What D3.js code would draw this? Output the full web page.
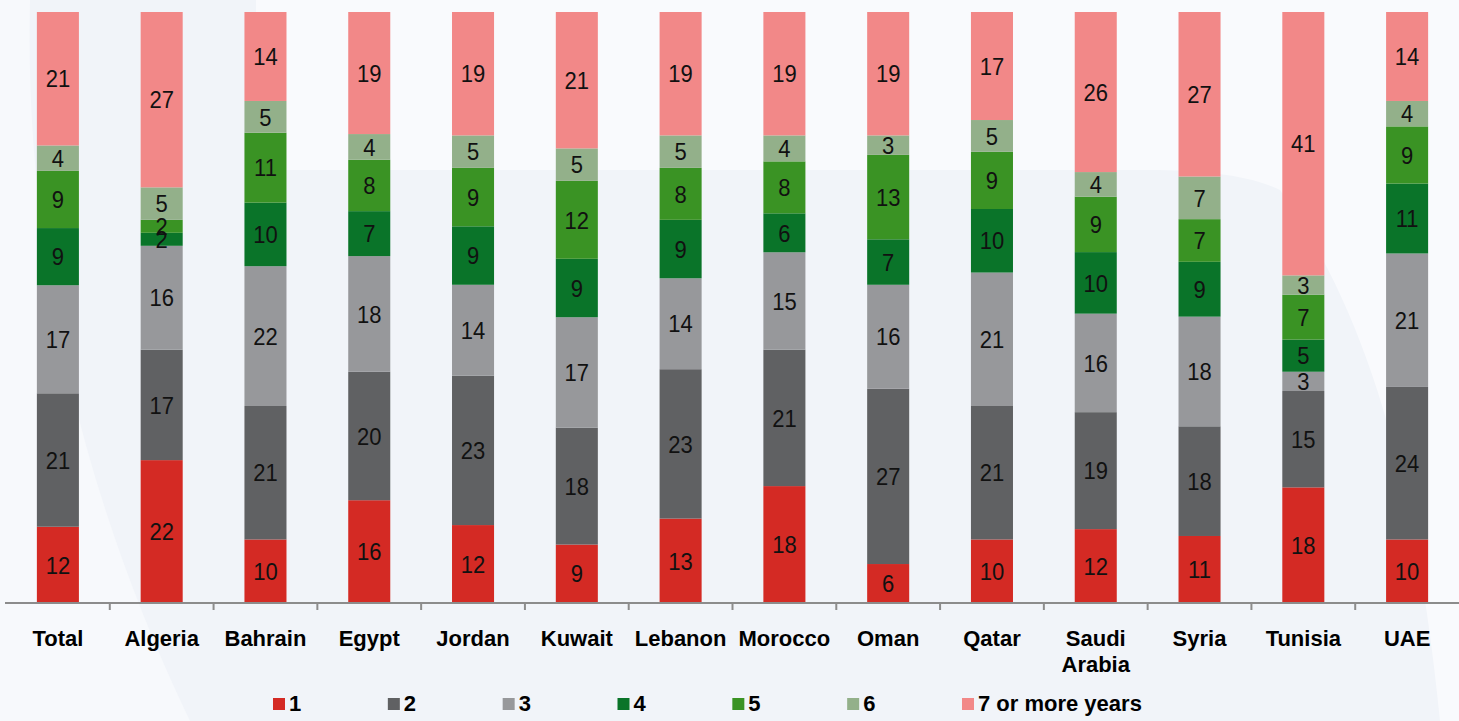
<!DOCTYPE html>
<html>
<head>
<meta charset="utf-8">
<script src="https://cdn.jsdelivr.net/npm/d3@7"></script>
<style>
  html, body { margin: 0; padding: 0; background: #f2f5f9; }
  svg { display: block; }
  text { font-family: "Liberation Sans", Arial, sans-serif; }
</style>
</head>
<body>
<svg id="chart" width="1459" height="721"></svg>
<script>
const categories = ["Total","Algeria","Bahrain","Egypt","Jordan","Kuwait","Lebanon","Morocco","Oman","Qatar","Saudi Arabia","Syria","Tunisia","UAE"];
const seriesNames = ["1","2","3","4","5","6","7 or more years"];
const s1 = [12,22,10,16,12, 9,13,18, 6,10,12,11,18,10];
const s2 = [21,17,21,20,23,18,23,21,27,21,19,18,15,24];
const s3 = [17,16,22,18,14,17,14,15,16,21,16,18, 3,21];
const s4 = [ 9, 2,10, 7, 9, 9, 9, 6, 7,10,10, 9, 5,11];
const s5 = [ 9, 2,11, 8, 9,12, 8, 8,13, 9, 9, 7, 7, 9];
const s6 = [ 4, 5, 5, 4, 5, 5, 5, 4, 3, 5, 4, 7, 3, 4];
const s7 = [21,27,14,19,19,21,19,19,19,17,26,27,41,14];
const colors = ["#d42a24","#606163","#97989b","#0a7429","#3a9324","#93b08a","#f28888"];

const allSeries = [s1,s2,s3,s4,s5,s6,s7];
const rows = categories.map((c,i) => {
  const r = {category: c};
  seriesNames.forEach((s,k) => r[s] = allSeries[k][i]);
  return r;
});

const svg = d3.select("#chart");
const W = 1459, H = 721;

// background
const bg = svg.append("g");
bg.append("rect").attr("width", W).attr("height", H).attr("fill", "#f1f4f9");
bg.append("path")
  .attr("d", "M256,0 L1459,0 L1459,721 L1440,721 C1420,520 1380,330 1280,190 C1250,175 1200,170 1150,170 L256,170 Z")
  .attr("fill", "#f9fafd");
bg.append("path")
  .attr("d", "M0,0 L30,0 C25,200 60,450 190,721 L0,721 Z")
  .attr("fill", "#f7f9fc");

const x = d3.scaleBand().domain(categories).range([6, 1459]).paddingInner(0.595).paddingOuter(0.2975);
const y = d3.scaleLinear().domain([0, 1]).range([603, 12]);

const stack = d3.stack().keys(seriesNames).offset(d3.stackOffsetExpand);
const stacked = stack(rows);

const layers = svg.append("g").selectAll("g").data(stacked).join("g")
  .attr("fill", (d,i) => colors[i]);
layers.selectAll("rect").data(d => d).join("rect")
  .attr("x", d => x(d.data.category))
  .attr("width", x.bandwidth())
  .attr("y", d => y(d[1]))
  .attr("height", d => y(d[0]) - y(d[1]));

const labels = svg.append("g");
stacked.forEach((layer, k) => {
  labels.selectAll(null).data(layer).join("text")
    .attr("transform", d => `translate(${x(d.data.category) + x.bandwidth()/2},${(y(d[0]) + y(d[1]))/2}) scale(1,1.1)`)
    .attr("text-anchor", "middle")
    .attr("dy", "0.36em")
    .attr("font-size", 22)
    .attr("fill", "#111")
    .text(d => d.data[seriesNames[k]]);
});

// axis line and ticks
const step = x.step();
const axis = svg.append("g");
axis.append("line").attr("x1", 5).attr("x2", W).attr("y1", 603).attr("y2", 603)
  .attr("stroke", "#8c8c8c").attr("stroke-width", 2);
axis.selectAll("line.tick").data(categories.slice(1)).join("line")
  .attr("class", "tick")
  .attr("x1", d => x(d) - step * x.paddingInner() / 2)
  .attr("x2", d => x(d) - step * x.paddingInner() / 2)
  .attr("y1", 603).attr("y2", 610)
  .attr("stroke", "#8c8c8c").attr("stroke-width", 2);

// category labels
const cat = svg.append("g");
cat.selectAll("text").data(categories).join("text")
  .attr("x", d => x(d) + x.bandwidth()/2)
  .attr("y", 646)
  .attr("text-anchor", "middle")
  .attr("font-size", 22)
  .attr("font-weight", "bold")
  .attr("fill", "#000")
  .each(function(d) {
    const parts = d.split(" ");
    const t = d3.select(this);
    parts.forEach((p, i) => {
      t.append("tspan").attr("x", x(d) + x.bandwidth()/2).attr("dy", i === 0 ? 0 : 26).text(p);
    });
  });

// legend
const legendX = d3.scalePoint().domain(seriesNames).range([273, 962]);
const lg = svg.append("g").selectAll("g").data(seriesNames).join("g")
  .attr("transform", d => `translate(${legendX(d)},698)`);
lg.append("rect").attr("width", 12).attr("height", 12).attr("fill", (d,i) => colors[i]);
lg.append("text").attr("x", 16).attr("y", 13)
  .attr("font-size", 22).attr("font-weight", "bold").attr("fill", "#000")
  .text(d => d);
</script>
</body>
</html>
